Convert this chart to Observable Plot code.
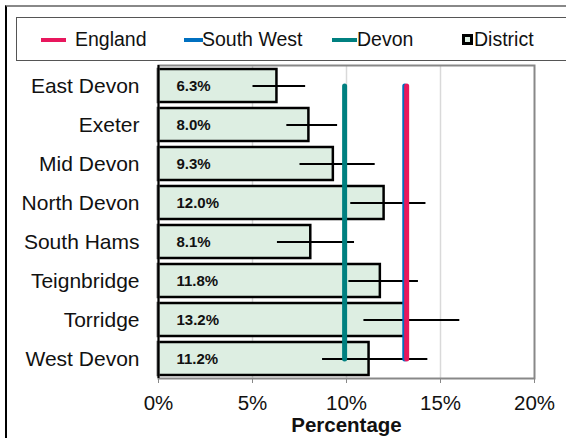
<!DOCTYPE html>
<html>
<head>
<meta charset="utf-8">
<script src="https://cdn.jsdelivr.net/npm/d3@7"></script>
<script src="https://cdn.jsdelivr.net/npm/@observablehq/plot@0.6"></script>
<style>
  html, body { margin: 0; padding: 0; background: #fff; }
  body { width: 566px; height: 438px; position: relative; overflow: hidden; font-family: "Liberation Sans", Arial, sans-serif; }
  #frame { position: absolute; left: 5px; top: 5px; width: 600px; height: 500px; border-left: 2px solid #000; border-top: 2px solid #888; }
  #legend { position: absolute; left: 16px; top: 17px; width: 560px; height: 42px; border: 1.5px solid #555; background: #fff; }
  .item { position: absolute; top: 0; height: 42px; line-height: 42px; font-size: 19.5px; color: #111; }
  .sw { position: absolute; height: 4px; top: 20px; }
  .sq { position: absolute; width: 5px; height: 5px; top: 16px; border: 3px solid #000; background: #DDEEE2; }
  #chart { position: absolute; left: 0; top: 60px; }
  #chart svg g[aria-label="x-axis label"] text { font-weight: bold; font-size: 20.5px; }
</style>
</head>
<body>
<div id="frame"></div>
<div id="legend"></div>
<div id="chart"></div>
<script>
const districts = ["East Devon", "Exeter", "Mid Devon", "North Devon", "South Hams", "Teignbridge", "Torridge", "West Devon"];
const values    = [6.3, 8.0, 9.3, 12.0, 8.1, 11.8, 13.2, 11.2];
const errLow    = [5.0, 6.8, 7.5, 10.2, 6.3, 10.1, 10.9, 8.7];
const errHigh   = [7.8, 9.5, 11.5, 14.2, 10.4, 13.8, 16.0, 14.3];
const refNames  = ["Devon", "South West", "England"];
const refValues = [9.9, 13.1, 13.2];
const refColors = ["#008080", "#0070C0", "#E8175D"];
const xTicks    = [0, 5, 10, 15, 20];
const legendNames  = ["England", "South West", "Devon", "District"];
const legendColors = ["#E8175D", "#0070C0", "#008080", null];

const rows = districts.map((d, i) => ({district: d, value: values[i], lo: errLow[i], hi: errHigh[i]}));
const refLines = refNames.flatMap((n, i) => [
  {name: n, x: refValues[i], y: districts[0], color: refColors[i]},
  {name: n, x: refValues[i], y: districts[districts.length - 1], color: refColors[i]}
]);

// legend (HTML)
const legendLayout = [
  {sw: [24, 25], text: 58},
  {sw: [167, 19], text: 185},
  {sw: [315, 25], text: 340},
  {sw: [445, 0], text: 457}
];
const legend = document.getElementById("legend");
legendNames.forEach((n, i) => {
  const L = legendLayout[i];
  const s = document.createElement("div");
  if (legendColors[i]) {
    s.className = "sw";
    s.style.width = L.sw[1] + "px";
    s.style.background = legendColors[i];
  } else {
    s.className = "sq";
  }
  s.style.left = L.sw[0] + "px";
  legend.appendChild(s);
  const t = document.createElement("div");
  t.className = "item";
  t.style.left = L.text + "px";
  t.textContent = n;
  legend.appendChild(t);
});

const chart = Plot.plot({
  width: 566,
  height: 378,
  marginLeft: 158,
  marginRight: 32,
  marginTop: 5,
  marginBottom: 60,
  style: {fontFamily: "'Liberation Sans', Arial, sans-serif", fontSize: "20px", color: "#000", background: "transparent"},
  x: {domain: [0, 20]},
  y: {domain: districts, padding: 0},
  marks: [
    Plot.ruleX(xTicks.slice(1, -1), {stroke: "#d9d9d9", strokeWidth: 1.5}),
    Plot.barX(rows, {y: "district", x: "value", fill: "#DDEEE2", stroke: "#000", strokeWidth: 2.5, insetTop: 3, insetBottom: 3}),
    Plot.link(rows, {x1: "lo", x2: "hi", y1: "district", y2: "district", stroke: "#000", strokeWidth: 2}),
    Plot.line(refLines, {x: "x", y: "y", z: "name", stroke: "color", strokeWidth: 5, strokeLinecap: "round"}),
    Plot.text(rows, {y: "district", x: 0, dx: 18, text: d => d.value.toFixed(1) + "%", textAnchor: "start", fontWeight: "bold", fontSize: 15, fill: "#111"}),
    Plot.frame({stroke: "#888", strokeWidth: 2}),
    Plot.ruleX([0], {stroke: "#000", strokeWidth: 2}),
    Plot.axisY({tickSize: 0, tickPadding: 19, label: null, fill: "#111", fontSize: 21}),
    Plot.axisX({ticks: xTicks, tickFormat: d => d + "%", tickSize: 5, tickPadding: 12, stroke: "#888", fill: "#111", fontSize: 20.5,
      label: "Percentage", labelAnchor: "center", labelArrow: "none", labelOffset: 53})
  ]
});
document.getElementById("chart").appendChild(chart);
</script>
</body>
</html>
